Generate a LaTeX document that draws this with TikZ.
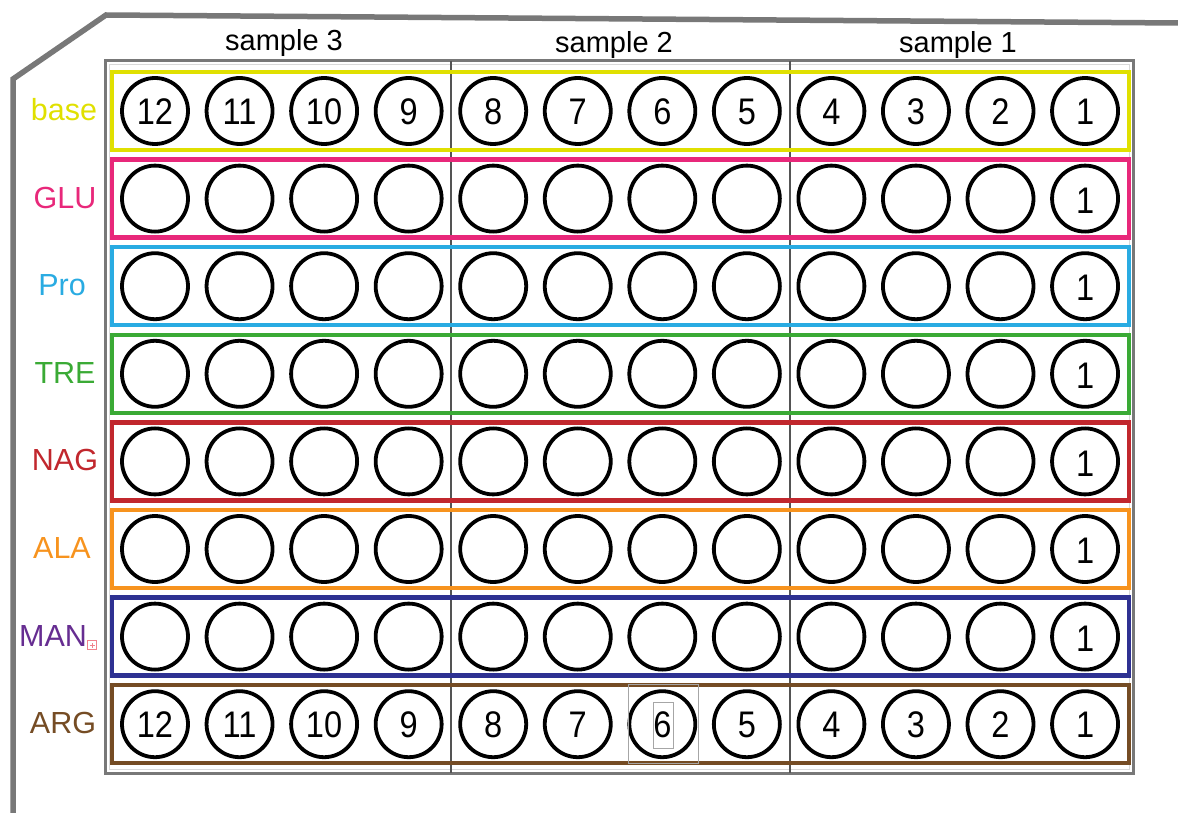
\documentclass[tikz,border=0pt]{standalone}
\usepackage{fontspec}
\setmainfont{Liberation Sans}
\newfontfamily\numfont[FakeStretch=0.88]{Liberation Sans}
\definecolor{cbase}{RGB}{224,224,0}
\definecolor{cglu}{RGB}{232,40,122}
\definecolor{cpro}{RGB}{41,171,226}
\definecolor{ctre}{RGB}{58,170,53}
\definecolor{cnag}{RGB}{193,39,45}
\definecolor{cala}{RGB}{247,147,30}
\definecolor{cman}{RGB}{46,49,146}
\definecolor{cmanl}{RGB}{102,45,145}
\definecolor{carg}{RGB}{117,76,36}
\definecolor{cplate}{RGB}{120,120,120}
\definecolor{cicon}{RGB}{240,130,140}
\begin{document}
\begin{tikzpicture}[x=1pt,y=-1pt,
  well/.style={circle,draw=black,line width=3.8pt,minimum size=66pt,inner sep=0pt,text height=26.5pt,text depth=0pt,font=\numfont\fontsize{37}{37}\selectfont},
  rowbox/.style={rectangle,line width=4.5pt,minimum width=1017pt,minimum height=78pt,inner sep=0pt},
  lbl/.style={font=\fontsize{30.5}{30.5}\selectfont,inner sep=0pt},
  samp/.style={font=\fontsize{29}{29}\selectfont,inner sep=0pt},
  plate/.style={rectangle,draw=cplate,line width=3pt,minimum width=1028pt,minimum height=712pt,inner sep=0pt},
  divider/.style={draw=cplate!70!black,line width=2.5pt},
  thinbox/.style={rectangle,draw=gray!70,line width=1pt,inner sep=0pt}]
\useasboundingbox (0,0) rectangle (1178,813);
% outer plate outline
\coordinate (o1) at (13,813);
\coordinate (o2) at (13,79);
\coordinate (o3) at (106,15);
\coordinate (o4) at (1178,23);
\draw[draw=cplate,line width=5.5pt,line join=miter] (o1) -- (o2) -- (o3) -- (o4);
% inner plate
\node[plate] (plate) at (619,417) {};
\node[rectangle,draw=gray!30,line width=1pt,minimum width=1020pt,minimum height=704pt,inner sep=0pt] (plateinner) at (619,417) {};
\coordinate (d1t) at (451,61); \coordinate (d1b) at (451,773);
\coordinate (d2t) at (790,61); \coordinate (d2b) at (790,773);
\draw[divider] (d1t) -- (d1b);
\draw[divider] (d2t) -- (d2b);
% sample labels
\node[samp] (s3) at (284,43) {sample 3};
\node[samp] (s2) at (614,45) {sample 2};
\node[samp] (s1) at (958,45) {sample 1};
% rows
\foreach \i/\lab/\lc/\bc/\lx in {0/base/cbase/cbase/64,1/GLU/cglu/cglu/65,2/Pro/cpro/cpro/62,3/TRE/ctre/ctre/65,4/NAG/cnag/cnag/65,5/ALA/cala/cala/62,6/MAN/cmanl/cman/53,7/ARG/carg/carg/63}{
  \pgfmathsetmacro{\yy}{111+87.6*\i}
  \node[rowbox,draw=\bc] (row-\i) at (620.5,\yy) {};
  \node[lbl,text=\lc] (lab-\i) at (\lx,\yy-1) {\lab};
  \foreach \j in {0,...,11}{
    \pgfmathtruncatemacro{\wnum}{12-\j}
    \pgfmathtruncatemacro{\isnum}{(\i==0)||(\i==7)}
    \pgfmathtruncatemacro{\isone}{(\j==11)}
    \ifnum\isnum=1
      \node[well] (w-\i-\j) at ({155+84.55*\j},\yy) {\wnum};
    \else
      \ifnum\isone=1
        \node[well] (w-\i-\j) at ({155+84.55*\j},\yy) {\raisebox{-1.5pt}{1}};
      \else
        \node[well] (w-\i-\j) at ({155+84.55*\j},\yy) {};
      \fi
    \fi
  }
}
% small icon next to MAN
\node[rectangle,draw=cicon,line width=0.8pt,minimum size=9pt,inner sep=0pt] (icon) at (92,645) {};
\draw[cicon,line width=0.8pt] ([xshift=-2.5pt]icon.center) -- ([xshift=2.5pt]icon.center);
\draw[cicon,line width=0.8pt] ([yshift=-2.5pt]icon.center) -- ([yshift=2.5pt]icon.center);
% selection boxes around well 6 of ARG row
\node[thinbox,minimum width=70pt,minimum height=79pt] (sel) at (663,723.5) {};
\node[thinbox,minimum width=20pt,minimum height=46pt] (seldigit) at (663,725) {};
\end{tikzpicture}
\end{document}
